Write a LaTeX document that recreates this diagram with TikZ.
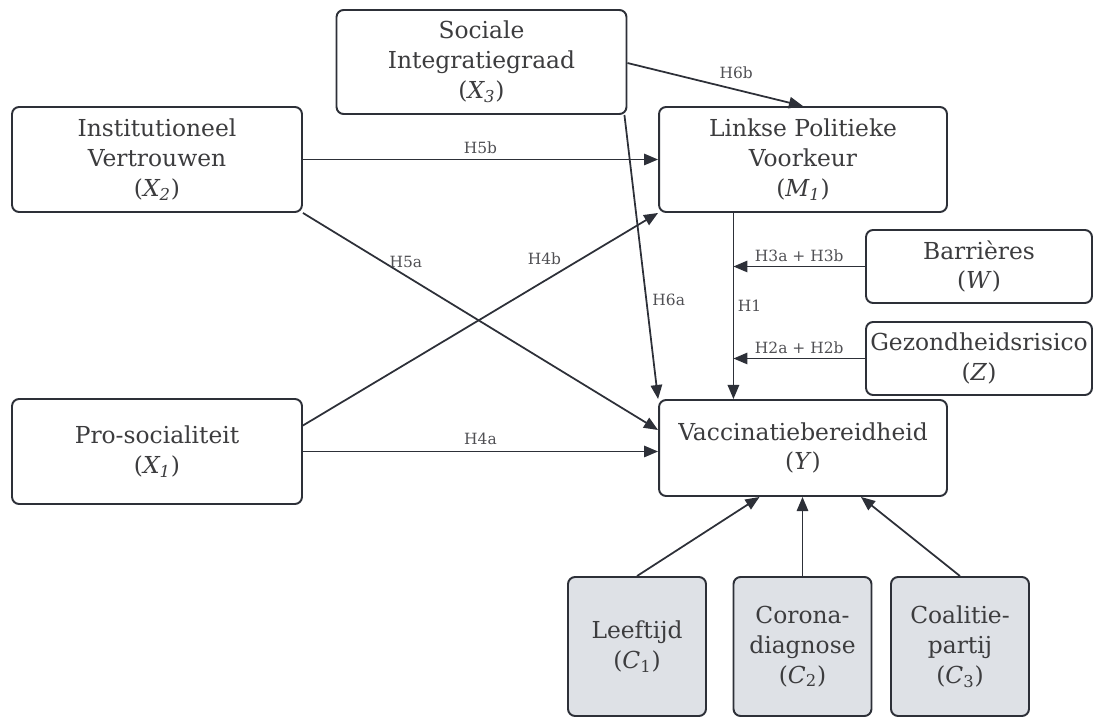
\documentclass[tikz,border=0pt]{standalone}
\usepackage{fontspec}
\setmainfont{DejaVu Serif}
\usetikzlibrary{arrows.meta,calc}
\definecolor{ink}{RGB}{45,48,56}
\definecolor{txt}{RGB}{60,60,62}
\definecolor{ctrlfill}{RGB}{222,225,230}
\definecolor{hyp}{RGB}{80,80,84}
\tikzset{
  var/.style={draw=ink,line width=1.1pt,rounded corners=4pt,fill=white,align=center,
    font=\fontsize{13.3}{17}\selectfont,text=txt,minimum width=5.8cm,
    minimum height=2.1cm,inner sep=0pt},
  mod/.style={var,minimum width=4.52cm,minimum height=1.46cm},
  ctrl/.style={var,fill=ctrlfill,minimum width=2.76cm,minimum height=2.78cm},
  arr/.style={-{Triangle[length=8pt,width=6.5pt]},line width=1pt,draw=ink},
  lbl/.style={font=\fontsize{8.8}{10}\selectfont,text=hyp,inner sep=1pt},
}

\begin{document}
\begin{tikzpicture}[x=0.02cm,y=-0.02cm]
  \useasboundingbox (0,0) rectangle (1096,719);
  % variables
  \node[var,minimum height=2.08cm] (soc) at (481.5,62) {Sociale\\Integratiegraad\\(\textit{X\textsubscript{3}})};
  \node[var] (inst) at (157,159.5) {Institutioneel\\Vertrouwen\\(\textit{X\textsubscript{2}})};
  \node[var,minimum width=5.76cm] (links) at (803,159.5) {Linkse Politieke\\Voorkeur\\(\textit{M\textsubscript{1}})};
  \node[mod] (barr) at (979,266.5) {Barrières\\(\textit{W})};
  \node[mod] (gez) at (979,358.5) {Gezondheidsrisico\\(\textit{Z})};
  \node[var] (pro) at (157,451.5) {Pro-socialiteit\\(\textit{X\textsubscript{1}})};
  \node[var,minimum width=5.76cm,minimum height=1.92cm] (vacc) at (803,448) {Vaccinatiebereidheid\\(\textit{Y})};
  % control variables
  \node[ctrl] (c1) at (637,646.5) {Leeftijd\\(\textit{C}\textsubscript{1})};
  \node[ctrl] (c2) at (802.5,646.5) {Corona-\\diagnose\\(\textit{C}\textsubscript{2})};
  \node[ctrl] (c3) at (960,646.5) {Coalitie-\\partij\\(\textit{C}\textsubscript{3})};
  \coordinate (spine) at ($(links.south west)!0.26!(links.south east)$);
  % hypotheses
  \draw[arr] (inst.east) -- node[lbl,above=2pt]{H5b} (links.west);
  \draw[arr] (inst.south east) -- node[lbl,pos=0.29,above=3pt]{H5a} ($(vacc.west)+(0,-18)$);
  \draw[arr] ($(pro.east)+(0,-26)$) -- node[lbl,pos=0.68,above=8pt]{H4b} (links.south west);
  \draw[arr] (pro.east) -- node[lbl,above=2.5pt]{H4a} (pro.east -| vacc.west);
  \draw[arr] ($(soc.south east)+(-3,0)$) -- node[lbl,pos=0.65,right=2pt]{H6a} (vacc.north west);
  \draw[arr] ($(soc.east)+(0,1)$) -- node[lbl,pos=0.62,above=5pt]{H6b} (links.north);
  \draw[arr] (spine) -- node[lbl,right=1pt]{H1} (spine |- vacc.north);
  \draw[arr] (barr.west) -- node[lbl,above=1.5pt]{H3a + H3b} (barr.west -| spine);
  \draw[arr] (gez.west) -- node[lbl,above=1.5pt]{H2a + H2b} (gez.west -| spine);
  % controls
  \draw[arr] (c1.north) -- ($(vacc.south west)!0.35!(vacc.south east)$);
  \draw[arr] (c2.north) -- (c2.north |- vacc.south);
  \draw[arr] (c3.north) -- ($(vacc.south west)!0.7!(vacc.south east)$);
\end{tikzpicture}
\end{document}
